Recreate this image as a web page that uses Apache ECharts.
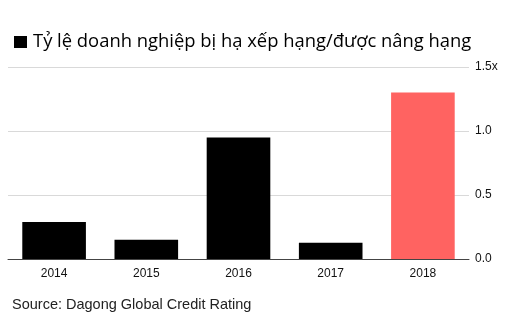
<!DOCTYPE html>
<html>
<head>
<meta charset="utf-8">
<script src="https://cdn.jsdelivr.net/npm/echarts@6/dist/echarts.min.js"></script>
<style>
  html, body { margin: 0; padding: 0; background: #fff; }
  #chart { width: 515px; height: 329px; }
</style>
</head>
<body>
<div id="chart"></div>
<script>
// Ratio of downgraded to upgraded companies, by year
const years = ['2014', '2015', '2016', '2017', '2018'];
const ratios = [0.29, 0.15, 0.95, 0.127, 1.30];
const barColors = ['#000000', '#000000', '#000000', '#000000', '#ff6361'];
const yTicks = { 0: '0.0', 0.5: '0.5', 1: '1.0', 1.5: '1.5x' };

const FONT = '"Liberation Sans", Arial, Helvetica, sans-serif';
const TITLE_FONT = '"Open Sans", "Noto Sans", sans-serif';
const chart = echarts.init(document.getElementById('chart'));

chart.setOption({
  animation: false,
  backgroundColor: '#ffffff',
  title: {
    text: '{sq|}{gap|}Tỷ lệ doanh nghiệp bị hạ xếp hạng/được nâng hạng',
    left: 14,
    top: 33,
    padding: 0,
    textStyle: {
      fontFamily: TITLE_FONT,
      fontSize: 18.4,
      fontWeight: 'normal',
      color: '#000',
      rich: {
        sq: { width: 13, height: 12, backgroundColor: '#000' },
        gap: { width: 6 }
      }
    }
  },
  graphic: [{
    type: 'text',
    left: 12,
    top: 297,
    style: {
      text: 'Source: Dagong Global Credit Rating',
      font: '14.5px ' + FONT,
      fill: '#222'
    }
  }],
  grid: { left: 8, right: 46, top: 67, bottom: 70, containLabel: false },
  xAxis: {
    type: 'category',
    data: years,
    axisLine: { lineStyle: { color: '#444', width: 1 } },
    axisTick: { alignWithLabel: true, length: 5, lineStyle: { color: '#444' } },
    axisLabel: { fontFamily: FONT, fontSize: 12, color: '#111', margin: 9 }
  },
  yAxis: {
    type: 'value',
    position: 'right',
    min: 0,
    max: 1.5,
    interval: 0.5,
    axisLine: { show: false },
    axisTick: { show: false },
    splitLine: { lineStyle: { color: '#d9d9d9', width: 1 } },
    axisLabel: {
      fontFamily: FONT,
      fontSize: 12,
      color: '#111',
      margin: 6,
      formatter: v => yTicks[v] !== undefined ? yTicks[v] : ''
    }
  },
  series: [{
    type: 'bar',
    barWidth: '69%',
    data: ratios.map((v, i) => ({ value: v, itemStyle: { color: barColors[i] } }))
  }]
});
</script>
</body>
</html>
